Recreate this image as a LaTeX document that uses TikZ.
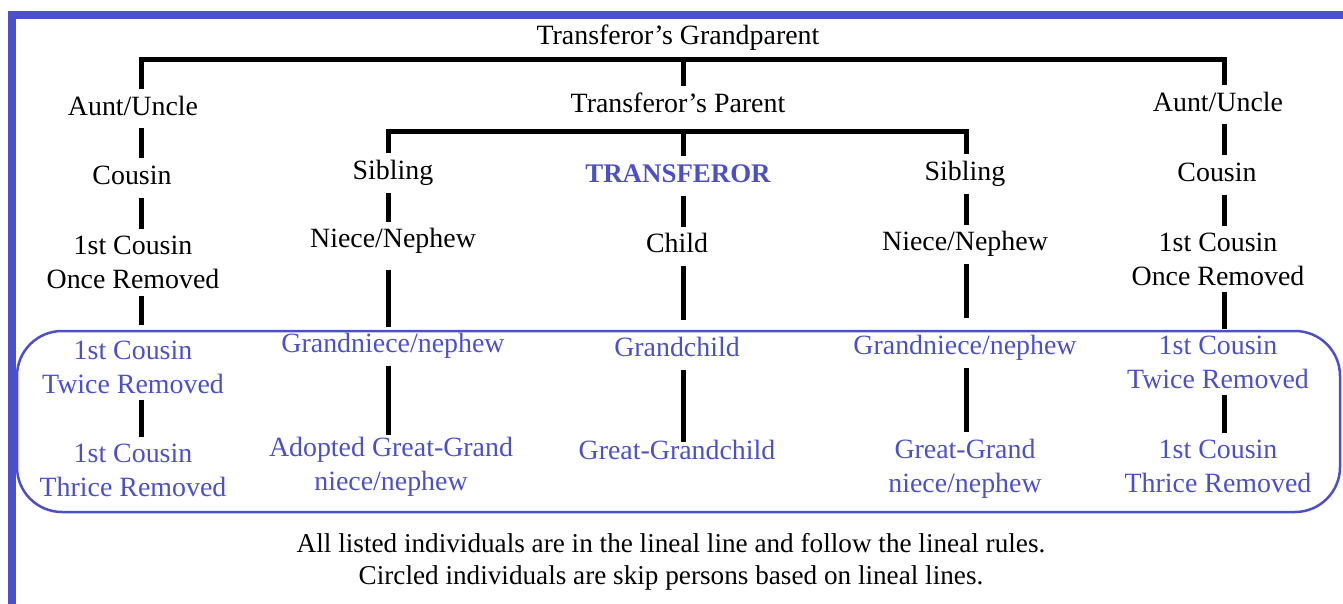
\documentclass[tikz,border=0pt]{standalone}
\usepackage{fontspec}
\setmainfont{Liberation Serif}
\usepackage{xcolor}
\definecolor{lineal}{RGB}{76,80,200}

\begin{document}
\begin{tikzpicture}[
	x=1bp, y=-1bp,
	every node/.style={font=\fontsize{28}{34}\selectfont, align=center, inner sep=2bp, outer ysep=5bp, text height=19bp, text depth=6bp},
	twoline/.style={text height={}, text depth={}},
	skip/.style={text=lineal},
	link/.style={line width=5bp},
	circled/.style={draw=lineal, line width=2.5bp, rounded corners=45bp}
	]
	\useasboundingbox (0,0) rectangle (1343,604);
	
	% Frame
	\fill[lineal] (8,11) rectangle (1343,19);
	\fill[lineal] (8,11) rectangle (16,604);
	\draw[circled] (17,331) rectangle (1340,512);
	
	% Columns
	\coordinate (c1) at (141,0);
	\coordinate (c2) at (388,0);
	\coordinate (c3) at (683,0);
	\coordinate (c4) at (966,0);
	\coordinate (c5) at (1224,0);
	\coordinate (gp_bar) at (683,60);
	\coordinate (p_bar) at (683,132);
	
	% Nodes
	\node (grandparent) at (678,38) {Transferor's Grandparent};
	\node (parent) at (678,106) {Transferor's Parent};
	\node (aunt_l) at (133,109) {Aunt/Uncle};
	\node (aunt_r) at (1218,105) {Aunt/Uncle};
	\node (sibling_l) at (393,173) {Sibling};
	\node (transferor) [skip, font=\fontsize{27}{34}\selectfont\bfseries] at (678,176) {TRANSFEROR};
	\node (sibling_r) at (965,174) {Sibling};
	\node (cousin_l) at (132,178) {Cousin};
	\node (cousin_r) at (1217,175) {Cousin};
	\node (niece_l) at (393,241) {Niece/Nephew};
	\node (child) at (677,246) {Child};
	\node (niece_r) at (965,244) {Niece/Nephew};
	\node (once_l) [twoline] at (133,262.5) {1st Cousin\\Once Removed};
	\node (once_r) [twoline] at (1218,259) {1st Cousin\\Once Removed};
	\node (twice_l) [skip, twoline] at (133,367) {1st Cousin\\Twice Removed};
	\node (grandniece_l) [skip] at (393,346) {Grandniece/nephew};
	\node (grandchild) [skip] at (677,350) {Grandchild};
	\node (grandniece_r) [skip] at (965,348) {Grandniece/nephew};
	\node (twice_r) [skip, twoline] at (1218,362) {1st Cousin\\Twice Removed};
	\node (thrice_l) [skip, twoline] at (133,470) {1st Cousin\\Thrice Removed};
	\node (adopted) [skip, twoline] at (391,466.5) {Adopted Great-Grand\\niece/nephew};
	\node (great_gc) [skip] at (677,453) {Great-Grandchild};
	\node (great_gn) [skip, twoline] at (965,468.5) {Great-Grand\\niece/nephew};
	\node (thrice_r) [skip, twoline] at (1218,466) {1st Cousin\\Thrice Removed};
	\node (note) [twoline, font=\fontsize{27.3}{32}\selectfont] at (671,562) {All listed individuals are in the lineal line and follow the lineal rules.\\Circled individuals are skip persons based on lineal lines.};
	
	% Connections
	\draw [link] (aunt_l.north -| c1) |- (gp_bar) -| (aunt_r.north -| c5);
	\draw [link] (gp_bar) -- (parent.north -| c3);
	\draw [link] (sibling_l.north -| c2) |- (p_bar) -| (sibling_r.north -| c4);
	\draw [link] (p_bar) -- (transferor.north -| c3);
	
	\draw [link] (aunt_l.south -| c1) -- (cousin_l.north -| c1);
	\draw [link] (cousin_l.south -| c1) -- (once_l.north -| c1);
	\draw [link, shorten >=9bp] (once_l.south -| c1) -- (twice_l.north -| c1);
	\draw [link] (twice_l.south -| c1) -- (thrice_l.north -| c1);
	
	\draw [link] (sibling_l.south -| c2) -- (niece_l.north -| c2);
	\draw [link, shorten <=9bp] (niece_l.south -| c2) -- (grandniece_l.north -| c2);
	\draw [link, shorten >=-5bp] (grandniece_l.south -| c2) -- (adopted.north -| c2);
	
	\draw [link] (transferor.south -| c3) -- (child.north -| c3);
	\draw [link, shorten >=11bp] (child.south -| c3) -- (grandchild.north -| c3);
	\draw [link, shorten >=-8bp] (grandchild.south -| c3) -- (great_gc.north -| c3);
	
	\draw [link] (sibling_r.south -| c4) -- (niece_r.north -| c4);
	\draw [link, shorten >=11bp] (niece_r.south -| c4) -- (grandniece_r.north -| c4);
	\draw [link] (grandniece_r.south -| c4) -- (great_gn.north -| c4);
	
	\draw [link] (aunt_r.south -| c5) -- (cousin_r.north -| c5);
	\draw [link] (cousin_r.south -| c5) -- (once_r.north -| c5);
	\draw [link] (once_r.south -| c5) -- (twice_r.north -| c5);
	\draw [link] (twice_r.south -| c5) -- (thrice_r.north -| c5);
	
\end{tikzpicture}
\end{document}
